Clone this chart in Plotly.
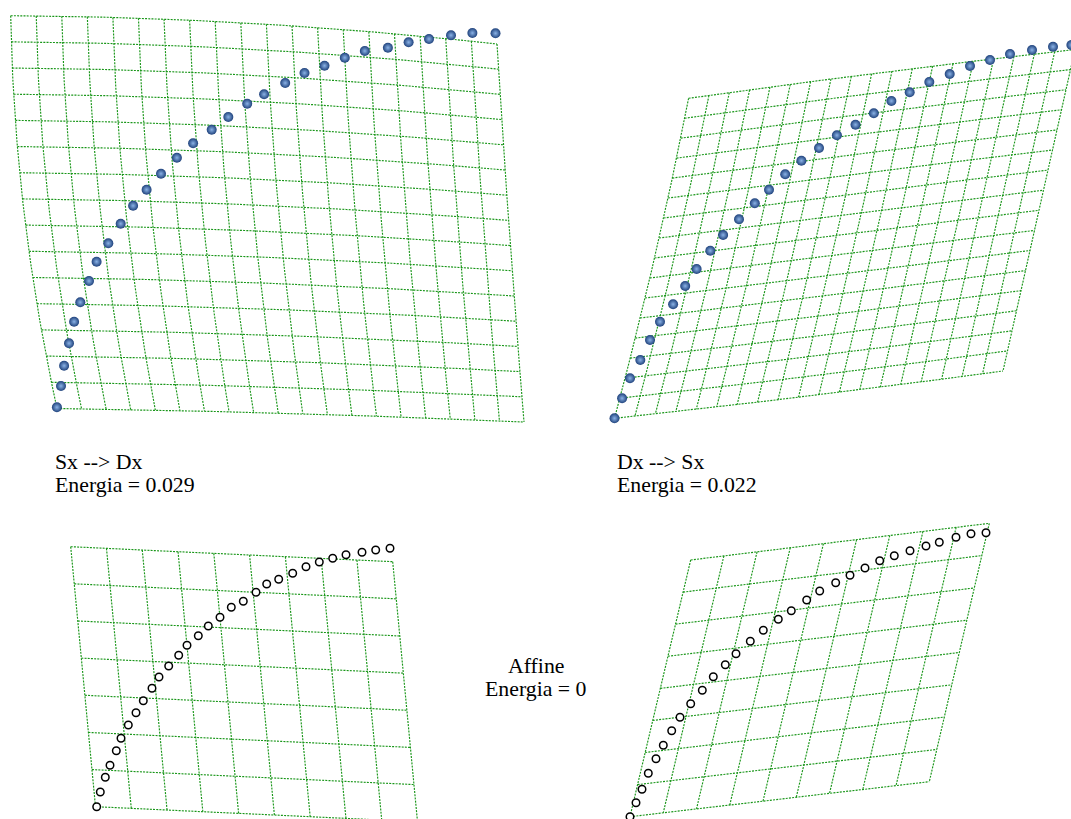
import numpy as np
import plotly.graph_objects as go

W, H = 1071, 819

# ---------------- landmark configurations (page pixel space) ----------------
# Sx --> Dx warp (top left)
sxdx_x = [56.9, 61.0, 64.1, 69.0, 74.1, 80.3, 89.0, 96.6, 108.3, 120.7,
          133.1, 146.6, 161.0, 176.9, 193.1, 211.7, 228.3, 247.2, 264.1, 285.2,
          304.5, 324.5, 344.8, 364.8, 387.9, 408.6, 429.0, 451.0, 472.4, 495.5]
sxdx_y = [407.3, 386.0, 365.7, 343.3, 321.7, 302.3, 281.0, 261.7, 243.3, 223.7,
          205.7, 189.7, 173.7, 157.7, 143.3, 129.7, 117.0, 103.7, 94.3, 83.0,
          73.0, 65.7, 57.7, 51.0, 47.7, 42.3, 39.0, 35.3, 33.0, 33.3]

# Dx --> Sx warp (top right)
dxsx_x = [614.5, 622.1, 630.0, 640.3, 650.0, 660.0, 673.1, 685.2, 696.6, 710.3,
          723.1, 739.0, 754.8, 769.0, 785.2, 801.4, 819.0, 836.9, 855.5, 873.8,
          891.4, 909.7, 929.3, 949.7, 970.0, 990.0, 1010.0, 1032.0, 1053.0, 1071.4]
dxsx_y = [418.3, 398.3, 378.3, 360.0, 340.0, 321.7, 304.3, 286.0, 269.0, 250.7,
          235.0, 219.3, 203.3, 189.7, 174.3, 160.7, 148.0, 135.3, 124.7, 113.3,
          101.0, 92.3, 82.0, 74.0, 66.0, 60.0, 54.0, 50.0, 46.7, 45.0]

# affine fit, left configuration (bottom left)
affl_x = [96.7, 100.3, 105.3, 110.0, 116.3, 121.0, 128.3, 136.0, 143.3, 152.0,
          159.0, 168.7, 178.7, 187.0, 198.3, 208.3, 220.0, 231.3, 243.3, 256.0,
          266.7, 278.7, 292.7, 306.0, 319.3, 332.7, 346.0, 362.0, 375.7, 390.0]
affl_y = [806.7, 792.0, 777.3, 765.3, 750.7, 738.3, 725.0, 712.7, 700.7, 688.3,
          677.0, 666.0, 655.3, 645.3, 635.7, 626.0, 617.3, 607.3, 601.3, 592.3,
          584.0, 579.3, 573.3, 566.7, 562.0, 558.3, 554.7, 552.3, 550.0, 548.3]

# affine fit, right configuration (bottom right)
affr_x = [630.0, 636.0, 642.0, 648.3, 656.0, 663.3, 671.7, 680.0, 690.7, 702.3,
          713.3, 725.3, 736.0, 750.3, 763.3, 778.3, 791.3, 806.7, 819.7, 835.7,
          850.0, 865.0, 879.7, 894.3, 910.0, 926.0, 939.3, 956.0, 971.0, 986.0]
affr_y = [816.7, 802.7, 789.3, 773.3, 758.7, 745.3, 730.7, 717.3, 703.7, 690.3,
          676.7, 664.7, 653.7, 641.3, 630.3, 619.3, 610.7, 600.0, 591.0, 582.7,
          575.3, 568.0, 560.7, 555.7, 550.7, 546.0, 542.3, 537.3, 533.7, 532.7]

# ---------------- deformation grid outlines ----------------
# corners in order TL, TR, BR, BL; edge midpoints in order top, right, bottom, left
g1_cx = [10.7, 497.0, 524.0, 57.0]
g1_cy = [15.7, 44.0, 422.0, 408.5]
g1_mx = [253.6, 509.5, 290.5, 24.0]
g1_my = [23.5, 233.0, 413.5, 212.0]
g1_cols, g1_rows = 19, 15

g2_cx = [688.6, 1075.0, 1003.0, 614.5]
g2_cy = [98.3, 49.5, 371.0, 418.3]
g2_mx = [881.8, 1039.0, 808.7, 654.5]
g2_my = [72.5, 210.3, 396.0, 258.0]
g2_cols, g2_rows = 19, 16

g3_cx = [70.7, 392.7, 417.5, 95.5]
g3_cy = [546.7, 561.7, 821.7, 806.7]
g3_cols, g3_rows = 9, 7

g4_cx = [690.7, 989.3, 929.3, 630.0]
g4_cy = [560.0, 523.3, 781.7, 816.7]
g4_cols, g4_rows = 9, 8

# ---------------- captions ----------------
cap_left = ["Sx --> Dx", "Energia = 0.029"]
cap_right = ["Dx --> Sx", "Energia = 0.022"]
cap_mid = ["Affine", "Energia = 0"]


def quad(p0, pm, p1, t):
    t = np.asarray(t, dtype=float)[:, None]
    return (2 * (t - 0.5) * (t - 1)) * p0 + (-4 * t * (t - 1)) * pm + (2 * t * (t - 0.5)) * p1


def patch(cx, cy, mx, my, u, v):
    TL, TR, BR, BL = [np.array([cx[i], cy[i]], dtype=float) for i in range(4)]
    mT, mR, mB, mL = [np.array([mx[i], my[i]], dtype=float) for i in range(4)]
    top = quad(TL, mT, TR, u)
    bot = quad(BL, mB, BR, u)
    lef = quad(TL, mL, BL, v)
    rig = quad(TR, mR, BR, v)
    uu = np.asarray(u, dtype=float)[:, None]
    vv = np.asarray(v, dtype=float)[:, None]
    corner = ((1 - uu) * (1 - vv) * TL + uu * (1 - vv) * TR
              + (1 - uu) * vv * BL + uu * vv * BR)
    return (1 - vv) * top + vv * bot + (1 - uu) * lef + uu * rig - corner


def straight_mids(cx, cy):
    mx = [(cx[0] + cx[1]) / 2, (cx[1] + cx[2]) / 2, (cx[2] + cx[3]) / 2, (cx[3] + cx[0]) / 2]
    my = [(cy[0] + cy[1]) / 2, (cy[1] + cy[2]) / 2, (cy[2] + cy[3]) / 2, (cy[3] + cy[0]) / 2]
    return mx, my


def grid_trace(cx, cy, mx, my, ncol, nrow, nseg=60):
    s = np.linspace(0, 1, nseg + 1)
    xs, ys = [], []
    for i in range(nrow + 1):
        P = patch(cx, cy, mx, my, s, np.full_like(s, i / nrow))
        xs += list(P[:, 0]) + [None]
        ys += list(P[:, 1]) + [None]
    for j in range(ncol + 1):
        P = patch(cx, cy, mx, my, np.full_like(s, j / ncol), s)
        xs += list(P[:, 0]) + [None]
        ys += list(P[:, 1]) + [None]
    return go.Scatter(x=xs, y=ys, mode="lines", hoverinfo="skip",
                      line=dict(color="rgb(25,150,25)", width=1.15, dash="2px,1.2px"))


fig = go.Figure()

g3_mx, g3_my = straight_mids(g3_cx, g3_cy)
g4_mx, g4_my = straight_mids(g4_cx, g4_cy)
fig.add_trace(grid_trace(g1_cx, g1_cy, g1_mx, g1_my, g1_cols, g1_rows))
fig.add_trace(grid_trace(g2_cx, g2_cy, g2_mx, g2_my, g2_cols, g2_rows))
fig.add_trace(grid_trace(g3_cx, g3_cy, g3_mx, g3_my, g3_cols, g3_rows))
fig.add_trace(grid_trace(g4_cx, g4_cy, g4_mx, g4_my, g4_cols, g4_rows))

sphere = dict(size=10, color="#1f427c",
              gradient=dict(type="radial", color="#8ab2e6"), line=dict(width=0))
fig.add_trace(go.Scatter(x=sxdx_x, y=sxdx_y, mode="markers", marker=sphere))
fig.add_trace(go.Scatter(x=dxsx_x, y=dxsx_y, mode="markers", marker=sphere))

ring = dict(size=7.5, color="white", line=dict(color="black", width=1.5))
fig.add_trace(go.Scatter(x=affl_x, y=affl_y, mode="markers", marker=ring))
fig.add_trace(go.Scatter(x=affr_x, y=affr_y, mode="markers", marker=ring))

font = dict(family="Liberation Serif", size=21.8, color="black")
for txt, x, y, anchor in [
    (cap_left[0], 53.0, 462.0, "left"), (cap_left[1], 53.0, 484.5, "left"),
    (cap_right[0], 614.5, 462.0, "left"), (cap_right[1], 614.5, 484.5, "left"),
    (cap_mid[0], 536.0, 665.5, "center"), (cap_mid[1], 536.3, 689.0, "center"),
]:
    fig.add_annotation(x=x, y=y, text=txt, showarrow=False, xanchor=anchor,
                       yanchor="middle", font=font, xref="x", yref="y")

fig.update_layout(
    width=W, height=H, margin=dict(l=0, r=0, t=0, b=0),
    paper_bgcolor="white", plot_bgcolor="white", showlegend=False,
    xaxis=dict(range=[0, W], visible=False, fixedrange=True),
    yaxis=dict(range=[H, 0], visible=False, fixedrange=True),
)

fig.write_html("out.html")
